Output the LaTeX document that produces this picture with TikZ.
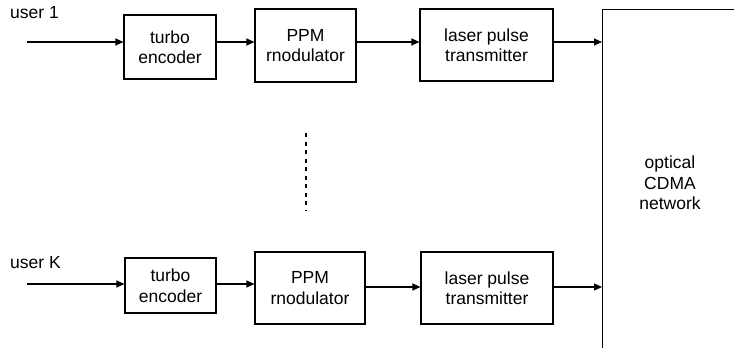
\documentclass[tikz,border=0pt]{standalone}
\usepackage{fontspec}
\setmainfont{Liberation Sans}
\usetikzlibrary{arrows.meta}
\begin{document}
\begin{tikzpicture}[x=1pt,y=-1pt,
  block/.style={draw, line width=1.1pt, align=center, inner sep=0pt,
    font=\fontsize{17.5}{20.5}\selectfont},
  lbl/.style={font=\fontsize{17.5}{20.5}\selectfont, inner sep=0pt, anchor=base west},
  arr/.style={line width=1.1pt, -{Triangle[length=8pt,width=7pt]}}]
  \useasboundingbox (0,0) rectangle (734,348);
  \clip (0,0) rectangle (734,348);

  % user 1 chain
  \node[block, minimum width=92pt, minimum height=64pt] (turbo1) at (170,47) {turbo\\encoder};
  \node[block, minimum width=101pt, minimum height=73pt] (ppm1) at (305.5,45.5) {PPM\\rnodulator};
  \node[block, minimum width=133pt, minimum height=72pt] (laser1) at (486.5,45) {laser pulse\\transmitter};

  % user K chain
  \node[block, minimum width=91pt, minimum height=55pt] (turbo2) at (170.5,285.5) {turbo\\encoder};
  \node[block, minimum width=110pt, minimum height=72pt] (ppm2) at (310,288) {PPM\\rnodulator};
  \node[block, minimum width=132pt, minimum height=72pt] (laser2) at (487,288) {laser pulse\\transmitter};

  % optical network (extends past the right and bottom edges)
  \node[draw, line width=1.1pt, minimum width=250pt, minimum height=400pt,
        anchor=north west, inner sep=0pt] (net) at (602,9) {};
  \node[block, draw=none] (nettext) at (670,183) {optical\\CDMA\\network};

  % labels
  \node[lbl] (u1) at (10,19) {user 1};
  \node[lbl] (uK) at (10,268) {user K};

  % row levels and free input ends
  \coordinate (in1) at (27,42);
  \coordinate (in2) at (27,284);
  \coordinate (row2) at (0,287);

  % connectors, user 1
  \draw[arr] (in1) -- (in1 -| turbo1.west);
  \draw[arr] (turbo1.east |- in1) -- (ppm1.west |- in1);
  \draw[arr] (ppm1.east |- in1) -- (laser1.west |- in1);
  \draw[arr] (laser1.east |- in1) -- (net.west |- in1);

  % connectors, user K
  \draw[arr] (in2) -- (in2 -| turbo2.west);
  \draw[arr] (turbo2.east |- in2) -- (ppm2.west |- in2);
  \draw[arr] (ppm2.east |- row2) -- (laser2.west |- row2);
  \draw[arr] (laser2.east |- row2) -- (net.west |- row2);

  % ellipsis between the users
  \coordinate (dtop) at (306,133);
  \coordinate (dbot) at (306,210);
  \draw[line width=1.2pt, dash pattern=on 4pt off 4.5pt] (dtop) -- (dbot);
\end{tikzpicture}
\end{document}
